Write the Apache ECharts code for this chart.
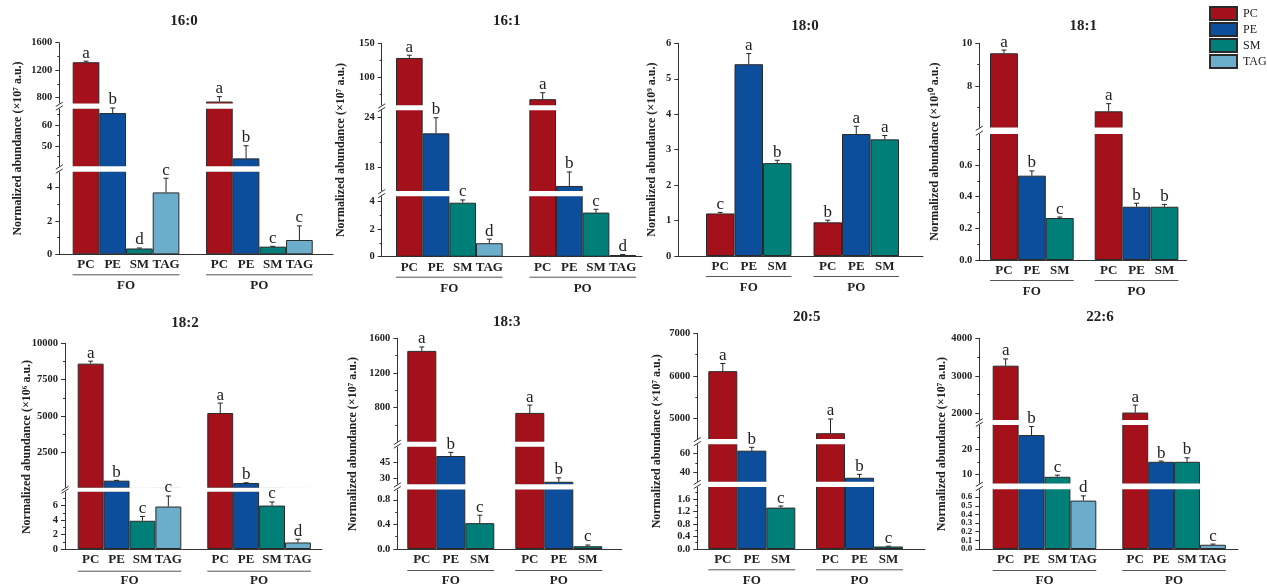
<!DOCTYPE html>
<html><head><meta charset="utf-8">
<script src="https://cdn.jsdelivr.net/npm/echarts@6/dist/echarts.min.js"></script>
<style>html,body{margin:0;padding:0;background:#fff}#c{width:1267px;height:587px}</style>
</head><body><div id="c"></div>
<script>
// ---------------- data ----------------
const groups = ['FO', 'PO'];
const classes = ['PC', 'PE', 'SM', 'TAG'];
const panelTitles = ['16:0', '16:1', '18:0', '18:1', '18:2', '18:3', '20:5', '22:6'];
const panelUnits = ['×10⁷', '×10⁷', '×10⁹', '×10¹⁰', '×10⁶', '×10⁷', '×10⁷', '×10⁷'];

// order: FO PC, PE, SM, TAG, then PO PC, PE, SM, TAG
const val16_0 = [1315, 65.6, 0.35, 3.72, 740, 44.1, 0.46, 0.86];
const err16_0 = [15, 2.4, 0.03, 0.85, 72, 6, 0.02, 0.85];
const sig16_0 = ['a', 'b', 'd', 'c', 'a', 'b', 'c', 'c'];

const val16_1 = [128.5, 22.1, 3.88, 0.97, 68, 15.7, 3.17, 0.12];
const err16_1 = [4, 1.9, 0.2, 0.29, 9.5, 1.7, 0.24, 0.04];
const sig16_1 = ['a', 'b', 'c', 'd', 'a', 'b', 'c', 'd'];

const val18_0 = [1.2, 5.41, 2.62, null, 0.95, 3.44, 3.29, null];
const err18_0 = [0.03, 0.3, 0.08, null, 0.06, 0.22, 0.11, null];
const sig18_0 = ['c', 'a', 'b', '', 'b', 'a', 'a', ''];

const val18_1 = [9.53, 0.532, 0.265, null, 6.8, 0.336, 0.336, null];
const err18_1 = [0.15, 0.03, 0.006, null, 0.36, 0.022, 0.015, null];
const sig18_1 = ['a', 'b', 'c', '', 'a', 'b', 'b', ''];

const val18_2 = [8600, 540, 3.9, 5.87, 5200, 380, 6.0, 0.9];
const err18_2 = [170, 20, 0.6, 1.45, 680, 15, 0.5, 0.45];
const sig18_2 = ['a', 'b', 'c', 'c', 'a', 'b', 'c', 'd'];

const val18_3 = [1455, 51.4, 0.42, null, 740, 26.7, 0.045, null];
const err18_3 = [45, 3.5, 0.13, null, 90, 3.8, 0.02, null];
const sig18_3 = ['a', 'b', 'c', '', 'a', 'b', 'c', ''];

const val20_5 = [6110, 62.7, 1.32, null, 4650, 34.8, 0.08, null];
const err20_5 = [180, 3.5, 0.05, null, 335, 3.5, 0.01, null];
const sig20_5 = ['a', 'b', 'c', '', 'a', 'b', 'c', ''];

const val22_6 = [3270, 25.7, 9.0, 0.56, 2020, 15.0, 15.0, 0.049];
const err22_6 = [180, 3.4, 0.65, 0.055, 200, 0.3, 1.6, 0.008];
const sig22_6 = ['a', 'b', 'c', 'd', 'a', 'b', 'b', 'c'];

// axis segments (bottom -> top) and tick labels
const range16_0 = [[0, 5], [40, 68], [700, 1600]];
const ticks16_0 = [[0, 2, 4], [50, 60], [800, 1200, 1600]];
const minor16_0 = [[1, 3, 5], [45, 55, 65], [1000, 1400]];

const range16_1 = [[0, 4.4], [15, 25], [58, 150]];
const ticks16_1 = [[0, 2, 4], [18, 24], [100, 150]];
const minor16_1 = [[1, 3], [21], [75, 125]];

const range18_0 = [[0, 6]];
const ticks18_0 = [[0, 1, 2, 3, 4, 5, 6]];
const minor18_0 = [[]];

const range18_1 = [[0, 0.8], [6, 10]];
const ticks18_1 = [[0, 0.2, 0.4, 0.6], [8, 10]];
const minor18_1 = [[0.1, 0.3, 0.5, 0.7], [7, 9]];

const range18_2 = [[0, 8], [0, 10000]];
const ticks18_2 = [[0, 2, 4, 6], [2500, 5000, 7500, 10000]];
const minor18_2 = [[1, 3, 5, 7], [3750, 6250, 8750]];

const range18_3 = [[0, 0.98], [23.6, 61], [400, 1600]];
const ticks18_3 = [[0, 0.4, 0.8], [30, 45], [800, 1200, 1600]];
const minor18_3 = [[0.2, 0.6], [], [600, 1000, 1400]];

const range20_5 = [[0, 2], [30, 70], [4500, 7000]];
const ticks20_5 = [[0, 0.4, 0.8, 1.2, 1.6], [40, 60], [5000, 6000, 7000]];
const minor20_5 = [[0.2, 0.6, 1.0, 1.4, 1.8], [50], [5500, 6500]];

const range22_6 = [[0, 0.7], [6, 30], [1800, 4000]];
const ticks22_6 = [[0, 0.1, 0.2, 0.3, 0.4, 0.5, 0.6], [10, 20], [2000, 3000, 4000]];
const minor22_6 = [[], [15, 25], [2500, 3500]];

const panelVals = [val16_0, val16_1, val18_0, val18_1, val18_2, val18_3, val20_5, val22_6];
const panelErrs = [err16_0, err16_1, err18_0, err18_1, err18_2, err18_3, err20_5, err22_6];
const panelSigs = [sig16_0, sig16_1, sig18_0, sig18_1, sig18_2, sig18_3, sig20_5, sig22_6];
const panelRanges = [range16_0, range16_1, range18_0, range18_1, range18_2, range18_3, range20_5, range22_6];
const panelTicks = [ticks16_0, ticks16_1, ticks18_0, ticks18_1, ticks18_2, ticks18_3, ticks20_5, ticks22_6];
const panelMinor = [minor16_0, minor16_1, minor18_0, minor18_1, minor18_2, minor18_3, minor20_5, minor22_6];

// ---------------- layout / style ----------------
const layout = [
  {axisX: 59.3, axisEnd: 333, lead: 13.4, w: 26.67, gapG: 26.67, n: 4, segPx: [[254.3, 171.1], [167, 108], [104.3, 42.7]], title: [184, 21.5], yTitleX: 18},
  {axisX: 381.7, axisEnd: 642, lead: 14.3, w: 26.67, gapG: 26.67, n: 4, segPx: [[256.7, 195.5], [191.7, 109.5], [106, 43.3]], title: [506.7, 21.5], yTitleX: 340.7},
  {axisX: 678.3, axisEnd: 923, lead: 27.7, w: 28.5, gapG: 22, n: 3, segPx: [[256, 43.3]], title: [805, 26.5], yTitleX: 651.7},
  {axisX: 979.3, axisEnd: 1186.7, lead: 10.7, w: 27.9, gapG: 21, n: 3, segPx: [[260, 133.2], [128.3, 43.3]], title: [1083.3, 26.5], yTitleX: 935},
  {axisX: 65, axisEnd: 322, lead: 12.7, w: 25.9, gapG: 26, n: 4, segPx: [[550.7, 491.1], [488.5, 343.3]], title: [185, 323.3], yTitleX: 27.3},
  {axisX: 397.3, axisEnd: 621.7, lead: 10, w: 29, gapG: 21, n: 3, segPx: [[550, 488.7], [485, 446], [442.4, 338.3]], title: [506.7, 321.7], yTitleX: 353.3},
  {axisX: 697.3, axisEnd: 925, lead: 11, w: 29, gapG: 20.7, n: 3, segPx: [[549.3, 486.3], [482.4, 443.6], [439.6, 333.3]], title: [806.7, 316.7], yTitleX: 656.7},
  {axisX: 979.3, axisEnd: 1238, lead: 13.4, w: 25.9, gapG: 26, n: 4, segPx: [[550, 488.5], [484.3, 424.3], [420.8, 338.3]], title: [1100, 316.7], yTitleX: 941.7}
];
const colors = ['#a5111a', '#0c4e9c', '#007f79', '#6badcb'];
const FONT = '"Liberation Serif","Times New Roman",serif';
const INK = '#222';
const AX = '#333';

function txtStyle(text, font, align, valign) {
  return {text: text, font: font, fill: INK, align: align, verticalAlign: valign, textAlign: align, textVerticalAlign: valign};
}

function makeErr(lets) {
  return function (params, api) {
    const x = api.value(0), v = api.value(1), e = api.value(2);
    const p0 = api.coord([x, v]);
    const p1 = api.coord([x, v + e]);
    return {
      type: 'group',
      children: [
        {type: 'line', shape: {x1: p0[0], y1: p0[1], x2: p1[0], y2: p1[1]}, style: {stroke: '#222', lineWidth: 1}},
        {type: 'line', shape: {x1: p1[0] - 2.5, y1: p1[1], x2: p1[0] + 2.5, y2: p1[1]}, style: {stroke: '#222', lineWidth: 1}},
        {type: 'text', x: p1[0], y: p1[1] + 0.5, style: txtStyle(lets[params.dataIndex], '17px ' + FONT, 'center', 'bottom')}
      ]
    };
  };
}

const option = {
  animation: false,
  backgroundColor: '#fff',
  legend: {
    data: classes, orient: 'vertical', left: 1209, top: 6, itemWidth: 27, itemHeight: 13, itemGap: 1,
    padding: 0, selectedMode: false, icon: 'rect',
    textStyle: {fontFamily: FONT, fontSize: 12, color: INK, lineHeight: 13, padding: [0, 0, 0, 1]}
  },
  grid: [], xAxis: [], yAxis: [], series: [], graphic: []
};

function yLabelAxis(gIdx, rg, values, dec, fs, showLine, tickLen) {
  return {
    type: 'value', gridIndex: gIdx, min: rg[0], max: rg[1], position: 'left',
    axisLine: {show: showLine, onZero: false, lineStyle: {color: AX, width: 1}},
    axisTick: {show: tickLen > 0, customValues: values, length: Math.max(tickLen, 1), lineStyle: {color: AX}},
    splitLine: {show: false},
    axisLabel: {customValues: values, formatter: v => Number(v).toFixed(dec), showMinLabel: true, showMaxLabel: true, hideOverlap: false,
      fontFamily: FONT, fontWeight: 'bold', fontSize: fs, color: INK, margin: 7}
  };
}

panelTitles.forEach((title, pi) => {
  const L = layout[pi];
  const vals = panelVals[pi], errs = panelErrs[pi], sigs = panelSigs[pi];
  const ranges = panelRanges[pi], ticks = panelTicks[pi], minors = panelMinor[pi];
  const W = L.axisEnd - L.axisX;
  const n = L.n;
  const centers = [], catLabels = [], idxOf = [];
  groups.forEach((g, gi) => {
    for (let c = 0; c < n; c++) {
      centers.push(L.lead + gi * (n * L.w + L.gapG) + (c + 0.5) * L.w);
      catLabels.push(classes[c]);
      idxOf.push(gi * 4 + c);
    }
  });
  const groupCenters = groups.map((g, gi) => L.lead + gi * (n * L.w + L.gapG) + n * L.w / 2);
  const labelAt = (arr, labs) => (v) => {
    for (let i = 0; i < arr.length; i++) if (Math.abs(arr[i] - v) < 0.01) return labs[i];
    return '';
  };
  const segOf = vals.map(v => v == null ? -1 : ranges.findIndex(r => v >= r[0] && v <= r[1]));

  ranges.forEach((rg, si) => {
    const px = L.segPx[si];
    const gIdx = option.grid.length;
    const hgt = px[0] - px[1];
    option.grid.push({left: L.axisX, top: px[1], width: W, height: hgt, containLabel: false});
    const bottom = si === 0;
    const xi = option.xAxis.length;
    option.xAxis.push({
      type: 'value', gridIndex: gIdx, min: 0, max: W, show: bottom, position: 'bottom',
      axisLine: {show: true, onZero: false, lineStyle: {color: AX, width: 1}},
      axisTick: {show: false}, splitLine: {show: false},
      axisLabel: {customValues: centers, formatter: labelAt(centers, catLabels), showMinLabel: true, showMaxLabel: true,
        fontFamily: FONT, fontWeight: 'bold', fontSize: 13, color: INK, margin: 4}
    });
    if (bottom) {
      option.xAxis.push({
        type: 'value', gridIndex: gIdx, min: 0, max: W, position: 'bottom', offset: 21,
        axisLine: {show: false, onZero: false}, axisTick: {show: false}, splitLine: {show: false},
        axisLabel: {customValues: groupCenters, formatter: labelAt(groupCenters, groups), showMinLabel: true, showMaxLabel: true,
          fontFamily: FONT, fontWeight: 'bold', fontSize: 13, color: INK, margin: 4}
      });
    }
    const tk = ticks[si];
    const dec = tk.some(t => !Number.isInteger(t)) ? 1 : 0;
    const spacing = tk.length > 1 ? (tk[1] - tk[0]) * hgt / (rg[1] - rg[0]) : 99;
    const dense = spacing < 12;
    const fs = dense ? 9 : 10.5;
    const yi = option.yAxis.length;
    if (dense) {
      option.yAxis.push(yLabelAxis(gIdx, rg, tk.filter((t, i) => i % 2 === 0), dec, fs, true, 4));
      option.yAxis.push(yLabelAxis(gIdx, rg, tk.filter((t, i) => i % 2 === 1), dec, fs, false, 4));
    } else {
      option.yAxis.push(yLabelAxis(gIdx, rg, tk, dec, fs, true, 4));
    }
    option.yAxis.push({
      type: 'value', gridIndex: gIdx, min: rg[0], max: rg[1], position: 'left',
      axisLine: {show: false, onZero: false}, axisLabel: {show: false}, splitLine: {show: false},
      axisTick: {show: minors[si].length > 0, customValues: minors[si].length ? minors[si] : [rg[0]], length: 2, lineStyle: {color: AX}}
    });
    for (let c = 0; c < n; c++) {
      const data = [];
      groups.forEach((g, gi) => {
        const v = vals[gi * 4 + c];
        if (v != null) data.push([centers[gi * n + c], v]);
      });
      option.series.push({
        type: 'bar', name: classes[c], xAxisIndex: xi, yAxisIndex: yi, data: data,
        barWidth: L.w, barGap: '-100%', clip: true, silent: true,
        itemStyle: {color: colors[c], borderColor: '#2a2a2a', borderWidth: 1}
      });
    }
    const eb = [], lets = [];
    centers.forEach((cx, k) => {
      const di = idxOf[k];
      if (vals[di] != null && segOf[di] === si) {
        eb.push([cx, vals[di], errs[di]]);
        lets.push(sigs[di]);
      }
    });
    if (eb.length) {
      option.series.push({type: 'custom', xAxisIndex: xi, yAxisIndex: yi, data: eb, z: 120, silent: true, clip: false, renderItem: makeErr(lets)});
    }
  });

  // titles
  option.graphic.push({type: 'text', x: L.title[0], y: L.title[1], z: 100, silent: true, style: txtStyle(title, 'bold 15px ' + FONT, 'center', 'middle')});
  const yBot = L.segPx[0][0], yTop = L.segPx[L.segPx.length - 1][1];
  option.graphic.push({type: 'text', x: L.yTitleX, y: (yBot + yTop) / 2, rotation: Math.PI / 2, z: 100, silent: true,
    style: txtStyle('Normalized abundance (' + panelUnits[pi] + ' a.u.)', 'bold 12px ' + FONT, 'center', 'middle')});
  // group underlines
  groups.forEach((g, gi) => {
    const x1 = L.axisX + L.lead + gi * (n * L.w + L.gapG);
    option.graphic.push({type: 'line', z: 100, silent: true, shape: {x1: x1, y1: yBot + 20.5, x2: x1 + n * L.w, y2: yBot + 20.5}, style: {stroke: '#555', lineWidth: 1}});
  });
  // axis breaks
  for (let si = 1; si < L.segPx.length; si++) {
    const up = L.segPx[si], lo = L.segPx[si - 1];
    option.graphic.push({type: 'rect', z: 100, silent: true, shape: {x: L.axisX - 2, y: up[0] - 0.7, width: W + 2, height: lo[1] - up[0] + 1.4}, style: {fill: '#fff'}});
    [up[0], lo[1]].forEach(yy => {
      option.graphic.push({type: 'line', z: 101, silent: true, shape: {x1: L.axisX - 3.5, y1: yy + 2.2, x2: L.axisX + 3.5, y2: yy - 2.2}, style: {stroke: AX, lineWidth: 1}});
    });
  }
});

const chart = echarts.init(document.getElementById('c'), null, {renderer: 'canvas', width: 1267, height: 587});
chart.setOption(option);
</script>
</body></html>
